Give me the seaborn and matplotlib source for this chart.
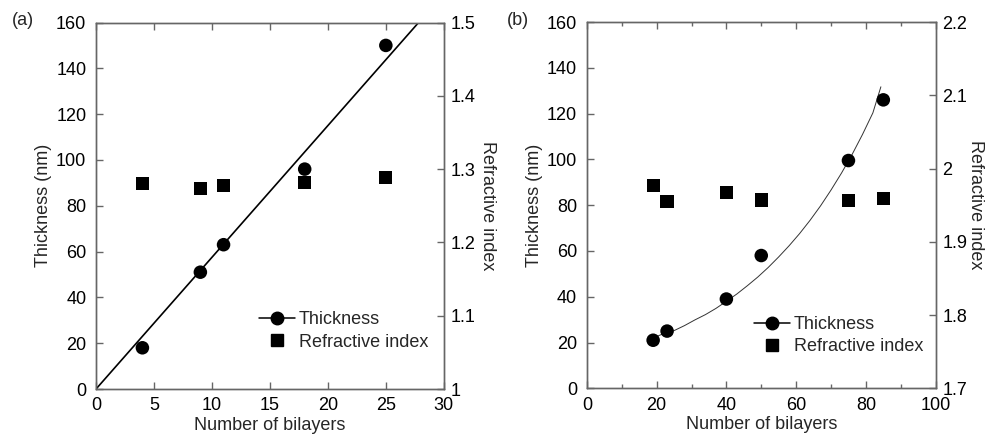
import matplotlib
matplotlib.use("Agg")
import matplotlib.pyplot as plt
import seaborn as sns
import pandas as pd
from matplotlib.lines import Line2D
from matplotlib.ticker import MultipleLocator, FuncFormatter

# ---------------- data ----------------
a_bilayers = [4, 9, 11, 18, 25]
a_thickness = [18, 51, 63, 96, 150]
a_index = [1.280, 1.274, 1.278, 1.282, 1.288]
a_fit_x = [0, 28]
a_fit_y = [0, 161]

b_bilayers = [19, 23, 40, 50, 75, 85]
b_thickness = [21, 25, 39, 58, 99.5, 126]
b_index = [1.977, 1.955, 1.967, 1.957, 1.956, 1.959]
b_fit_x = [19, 22, 25, 28, 31, 34, 37, 40, 43, 46, 49, 52, 55, 58, 61,
           64, 67, 70, 73, 76, 79, 82, 84.3]
b_fit_y = [22, 23.9, 25.2, 27.4, 29.9, 32.2, 34.9, 38, 41.2, 44.8, 48.6,
           52.8, 57.4, 62.3, 67.6, 73.4, 79.7, 86.6, 94, 102, 110.8, 120.3,
           131.7]

panel_labels = ["(a)", "(b)"]
legend_labels = ["Thickness", "Refractive index"]

# ---------------- style ----------------
sns.set_theme(style="ticks")
plt.rcParams["font.family"] = ["Liberation Sans", "DejaVu Sans"]
FS = 13
plt.rcParams["font.size"] = FS
spine_col = "#666666"

fig = plt.figure(figsize=(9.88, 4.37), dpi=100)
ax_a = fig.add_axes([0.0972, 0.1098, 0.352, 0.8387])
ax_b = fig.add_axes([0.594, 0.1114, 0.353, 0.8382])


def style_axes(ax, axr):
    for a in (ax, axr):
        for s in a.spines.values():
            s.set_color(spine_col)
            s.set_linewidth(1.0)
    ax.tick_params(axis="both", direction="in", length=5, width=1.0,
                   color=spine_col, labelsize=FS, labelcolor="black",
                   top=True, right=False)
    ax.tick_params(axis="x", pad=6)
    ax.tick_params(axis="y", pad=7)
    ax.tick_params(axis="x", which="minor", direction="in", length=3,
                   width=1.0, color=spine_col, top=True)
    axr.tick_params(axis="y", direction="in", length=5, width=1.0,
                    color=spine_col, labelsize=FS, labelcolor="black",
                    right=True, left=False, pad=5)


def draw(ax, bil, thick, idx, fx, fy, xlim, xstep, ylim_r, rstep, lw, lcol,
         leg_anchor, rpad, minor=None):
    dfp = pd.DataFrame({"n": bil, "t": thick})
    dfi = pd.DataFrame({"n": bil, "r": idx})
    dff = pd.DataFrame({"n": fx, "t": fy})
    sns.lineplot(data=dff, x="n", y="t", ax=ax, color=lcol, linewidth=lw,
                 sort=False, estimator=None)
    sns.scatterplot(data=dfp, x="n", y="t", ax=ax, color="black",
                    marker="o", s=95, edgecolor="none", zorder=5)
    axr = ax.twinx()
    sns.scatterplot(data=dfi, x="n", y="r", ax=axr, color="black",
                    marker="s", s=90, edgecolor="none", zorder=5)
    ax.set_xlim(*xlim)
    ax.set_ylim(0, 160)
    axr.set_ylim(*ylim_r)
    ax.xaxis.set_major_locator(MultipleLocator(xstep))
    if minor:
        ax.xaxis.set_minor_locator(MultipleLocator(minor))
    ax.yaxis.set_major_locator(MultipleLocator(20))
    axr.yaxis.set_major_locator(MultipleLocator(rstep))
    axr.yaxis.set_major_formatter(
        FuncFormatter(lambda v, p: f"{v:.1f}".rstrip("0").rstrip(".")))
    ax.set_xlabel("Number of bilayers", fontsize=FS, labelpad=2)
    ax.set_ylabel("Thickness (nm)", fontsize=FS, labelpad=3)
    axr.set_ylabel("Refractive index", fontsize=FS, rotation=270, labelpad=rpad)
    style_axes(ax, axr)
    handles = [Line2D([], [], color="black", lw=1.1, marker="o", markersize=9),
               Line2D([], [], color="black", lw=0, marker="s", markersize=9)]
    axr.legend(handles, legend_labels, loc="lower right",
               bbox_to_anchor=leg_anchor, frameon=False, fontsize=FS,
               handlelength=2.0, handletextpad=0.2, labelspacing=0.3,
               borderpad=0, borderaxespad=0)
    return axr


draw(ax_a, a_bilayers, a_thickness, a_index, a_fit_x, a_fit_y, (0, 30), 5,
     (1.0, 1.5), 0.1, 1.2, "black", (0.955, 0.105), 15)
draw(ax_b, b_bilayers, b_thickness, b_index, b_fit_x, b_fit_y, (0, 100), 20,
     (1.7, 2.2), 0.1, 0.7, "#333333", (0.965, 0.09), 12, minor=10)

fig.text(0.012, 0.953, panel_labels[0], fontsize=FS, va="center", ha="left")
fig.text(0.513, 0.953, panel_labels[1], fontsize=FS, va="center", ha="left")

fig.savefig("out.png", dpi=100)
